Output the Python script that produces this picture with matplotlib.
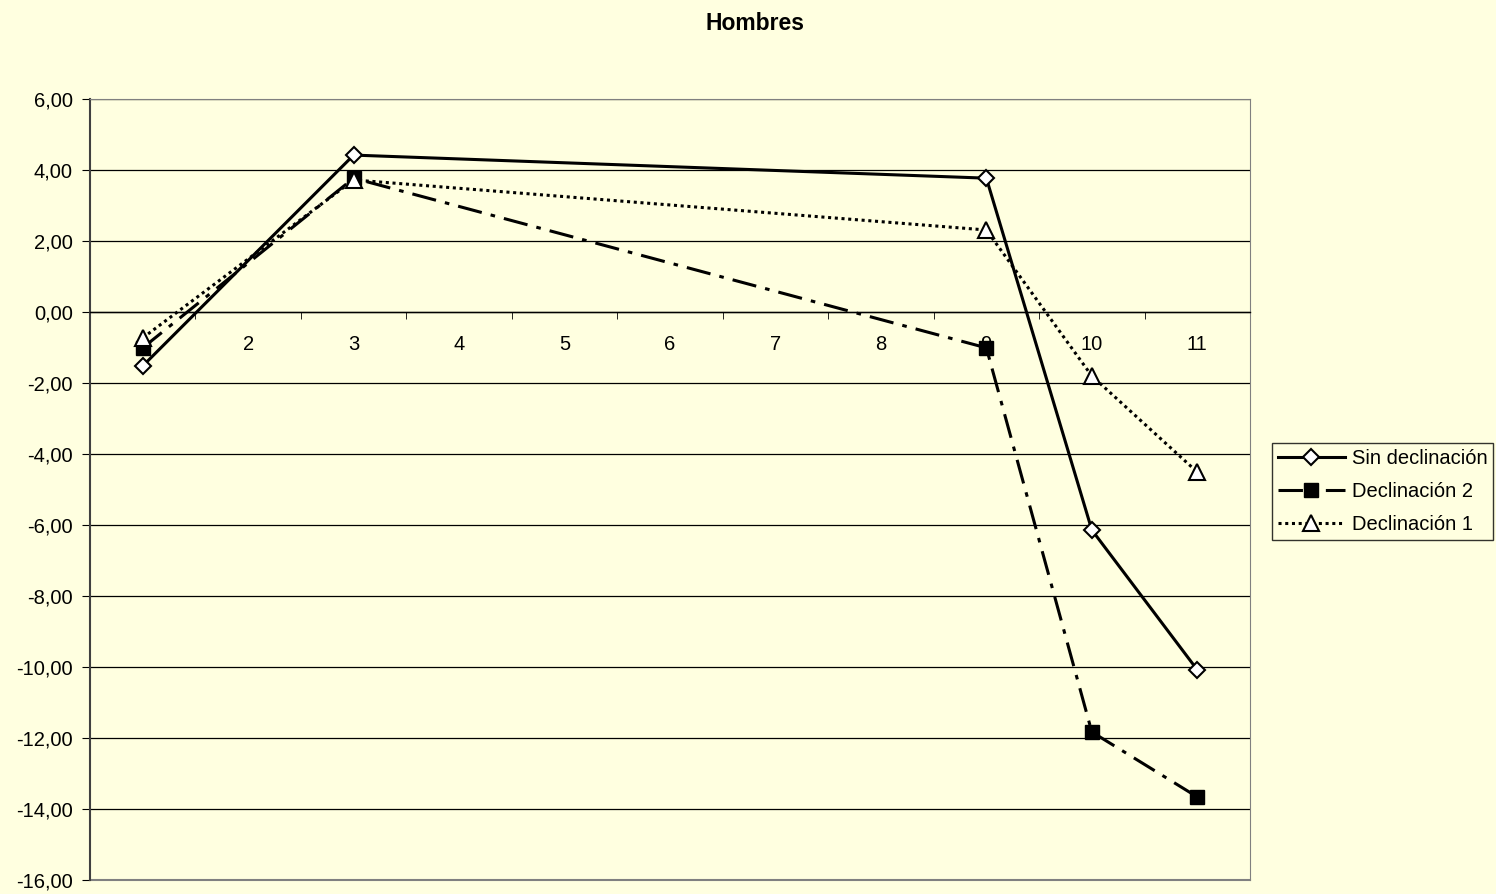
import numpy as np
import matplotlib.pyplot as plt
from matplotlib.ticker import FixedLocator, FuncFormatter

plt.rcParams['font.family'] = ['Liberation Sans', 'DejaVu Sans']

BG = "#FFFFE0"

categories = list(range(1, 12))
x_points = [1, 3, 9, 10, 11]
sin_declinacion = [-1.52, 4.42, 3.77, -6.14, -10.08]
declinacion_2 = [-1.01, 3.77, -1.01, -11.83, -13.66]
declinacion_1 = [-0.73, 3.72, 2.31, -1.80, -4.51]
y_ticks = list(range(6, -17, -2))

fig = plt.figure(figsize=(14.96, 8.94), dpi=100, facecolor=BG)
ax = fig.add_axes([90 / 1496, 1 - 880 / 894, 1160 / 1496, 781 / 894])
ax.set_facecolor(BG)

ax.plot(x_points, sin_declinacion, color="black", lw=2.2, ls="-",
        marker="D", markersize=8, markerfacecolor="white",
        markeredgecolor="black", markeredgewidth=1.5,
        label="Sin declinación", zorder=4)
ax.plot(x_points, declinacion_2, color="black", lw=2.2, ls=(0, (8, 3, 1.5, 3)),
        marker="s", markersize=10, markerfacecolor="black",
        markeredgecolor="black", label="Declinación 2", zorder=4)
ax.plot(x_points, declinacion_1, color="black", lw=2.2, ls=(0, (1, 1.2)),
        marker="^", markersize=11, markerfacecolor="white",
        markeredgecolor="black", markeredgewidth=1.5,
        label="Declinación 1", zorder=4)

ax.set_xlim(0.5, 11.5)
ax.set_ylim(-16, 6)
ax.set_yticks(y_ticks)
ax.yaxis.set_major_formatter(FuncFormatter(lambda v, p: f"{v:.2f}".replace(".", ",")))
ax.yaxis.grid(True, color="black", lw=0.9)
ax.set_axisbelow(True)

# category axis crossing at zero
ax.spines["bottom"].set_position(("data", 0))
ax.spines["bottom"].set_color("black")
ax.spines["bottom"].set_linewidth(1)
ax.spines["top"].set_color("#808080")
ax.spines["right"].set_color("#808080")
ax.spines["left"].set_color("#404040")
ax.spines["left"].set_linewidth(1.5)
ax.axhline(-16, color="#808080", lw=1.5, clip_on=False, zorder=1)

ax.set_xticks(categories)
ax.set_xticklabels([str(c) for c in categories])
ax.xaxis.set_minor_locator(FixedLocator(np.arange(1.5, 11.5, 1)))
ax.tick_params(axis="x", which="major", length=0, pad=16.5, labelsize=14.5)
ax.tick_params(axis="x", which="minor", length=5, direction="out", color="black")
ax.tick_params(axis="y", length=5.5, direction="out", labelsize=14.5, pad=7)

fig.text(755 / 1496, 1 - 24 / 894, "Hombres", ha="center", va="center",
         fontsize=16.5, fontweight="bold")

leg = fig.legend(loc="upper left", bbox_to_anchor=(1272 / 1496, 1 - 443 / 894),
                 frameon=True, fancybox=False, fontsize=14.5, handlelength=3.3,
                 borderpad=0.3, labelspacing=0.7, handletextpad=0.35,
                 borderaxespad=0)
leg.get_frame().set_edgecolor("black")
leg.get_frame().set_facecolor(BG)
leg.get_frame().set_linewidth(1)

fig.savefig("out.png", dpi=100, facecolor=BG)
